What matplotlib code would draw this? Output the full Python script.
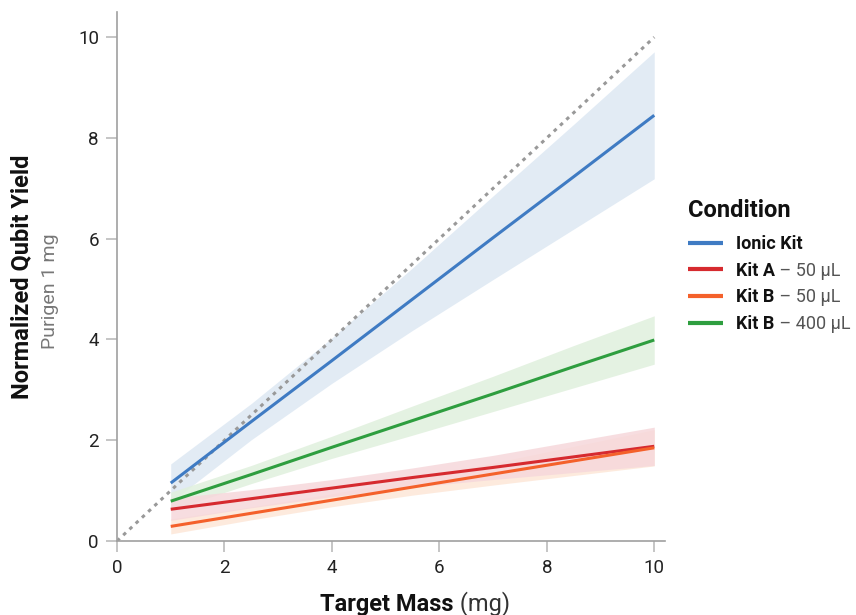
import matplotlib
matplotlib.use("Agg")
import matplotlib.pyplot as plt

plt.rcParams['font.family'] = ['Roboto', 'DejaVu Sans']

# ---- data ----
conditions = ["Ionic Kit", "Kit A", "Kit B", "Kit B"]
volumes = ["", "50 µL", "50 µL", "400 µL"]
colors = ["#3f7bc3", "#d62a2f", "#f4612b", "#2e9e3f"]
band_colors = ["#dde8f3", "#f6d8db", "#fde7d8", "#e0f0dd"]

x_pts = [1, 2.5, 4, 5.5, 7, 8.5, 10]

ionic_fit = [1.15, 2.37, 3.58, 4.80, 6.02, 7.23, 8.45]
ionic_lo = [0.77, 2.01, 3.13, 4.18, 5.19, 6.19, 7.19]
ionic_hi = [1.53, 2.73, 4.03, 5.42, 6.85, 8.27, 9.71]

kitA50_fit = [0.63, 0.84, 1.05, 1.26, 1.46, 1.67, 1.88]
kitA50_lo = [0.41, 0.66, 0.88, 1.07, 1.22, 1.36, 1.50]
kitA50_hi = [0.85, 1.02, 1.22, 1.45, 1.70, 1.98, 2.26]

kitB50_fit = [0.29, 0.55, 0.81, 1.07, 1.33, 1.59, 1.85]
kitB50_lo = [0.14, 0.42, 0.68, 0.91, 1.11, 1.30, 1.49]
kitB50_hi = [0.44, 0.68, 0.94, 1.23, 1.55, 1.88, 2.21]

kitB400_fit = [0.79, 1.32, 1.86, 2.39, 2.92, 3.46, 3.99]
kitB400_lo = [0.61, 1.14, 1.64, 2.10, 2.57, 3.04, 3.51]
kitB400_hi = [0.97, 1.50, 2.08, 2.68, 3.27, 3.88, 4.47]

identity_x = [0, 10]
identity_y = [0, 10]

xticks = [0, 2, 4, 6, 8, 10]
yticks = [0, 2, 4, 6, 8, 10]

series = [
    (ionic_fit, ionic_lo, ionic_hi),
    (kitA50_fit, kitA50_lo, kitA50_hi),
    (kitB50_fit, kitB50_lo, kitB50_hi),
    (kitB400_fit, kitB400_lo, kitB400_hi),
]

# ---- figure ----
fig = plt.figure(figsize=(8.56, 6.15), dpi=100)
ax = fig.add_axes([117/856, 1-541/615, (665-117)/856, (541-12)/615])

band_order = [0, 3, 2, 1]
for i in band_order:
    fit, lo, hi = series[i]
    ax.fill_between(x_pts, lo, hi, color=band_colors[i], alpha=0.85, lw=0, zorder=1)

ax.plot(identity_x, identity_y, color="#999999", lw=2.2, ls=(0, (1.2, 1.6)), zorder=2)

handles = []
for i in [0, 1, 2, 3]:
    fit, lo, hi = series[i]
    h, = ax.plot(x_pts, fit, color=colors[i], lw=2.2, zorder=3, solid_capstyle='butt')
    handles.append(h)

ax.set_xlim(0, 10.2)
ax.set_ylim(0, 10.5)
ax.set_xticks(xticks)
ax.set_yticks(yticks)
ax.tick_params(axis='both', colors="#bbbbbb", length=8, width=1.2, labelsize=13.5,
               labelcolor="#222222", pad=5)
for s in ["top", "right"]:
    ax.spines[s].set_visible(False)
for s in ["left", "bottom"]:
    ax.spines[s].set_color("#a0a0a0")
    ax.spines[s].set_linewidth(1.2)

# x label: bold part centered, "(mg)" appended
xl = fig.text(387/856, 1-604/615, "Target Mass", fontsize=17, fontweight='bold',
              ha='center', va='center', color="#111111")
fig.canvas.draw()
ax.annotate(" (mg)", xy=(1, 0), xycoords=xl, va='bottom', ha='left',
            fontsize=17, color="#333333", annotation_clip=False)

# y label
fig.text(22/856, 1-277/615, "Normalized Qubit Yield", fontsize=17, fontweight='bold',
         rotation=90, ha='center', va='center', color="#111111")
fig.text(50/856, 1-291/615, "Purigen 1 mg", fontsize=14, rotation=90,
         ha='center', va='center', color="#777777")

# legend
fig.text(688/856, 1-210/615, "Condition", fontsize=17, fontweight='bold',
         ha='left', va='center', color="#111111")
leg = fig.legend(handles, conditions, loc='upper left',
                 bbox_to_anchor=(688/856, 1-235/615), frameon=False,
                 borderpad=0, borderaxespad=0,
                 fontsize=13, handlelength=1.95,
                 handletextpad=0.72, labelspacing=0.48, alignment='left')
for t in leg.get_texts():
    t.set_fontweight('bold')
    t.set_color("#111111")
for h in leg.legend_handles:
    h.set_linewidth(3)
fig.canvas.draw()
for t, v in zip(leg.get_texts(), volumes):
    if v:
        ax.annotate(" – " + v, xy=(1, 0), xycoords=t, va='bottom', ha='left',
                    fontsize=13, color="#555555", annotation_clip=False)

fig.savefig("out.png", dpi=100)
